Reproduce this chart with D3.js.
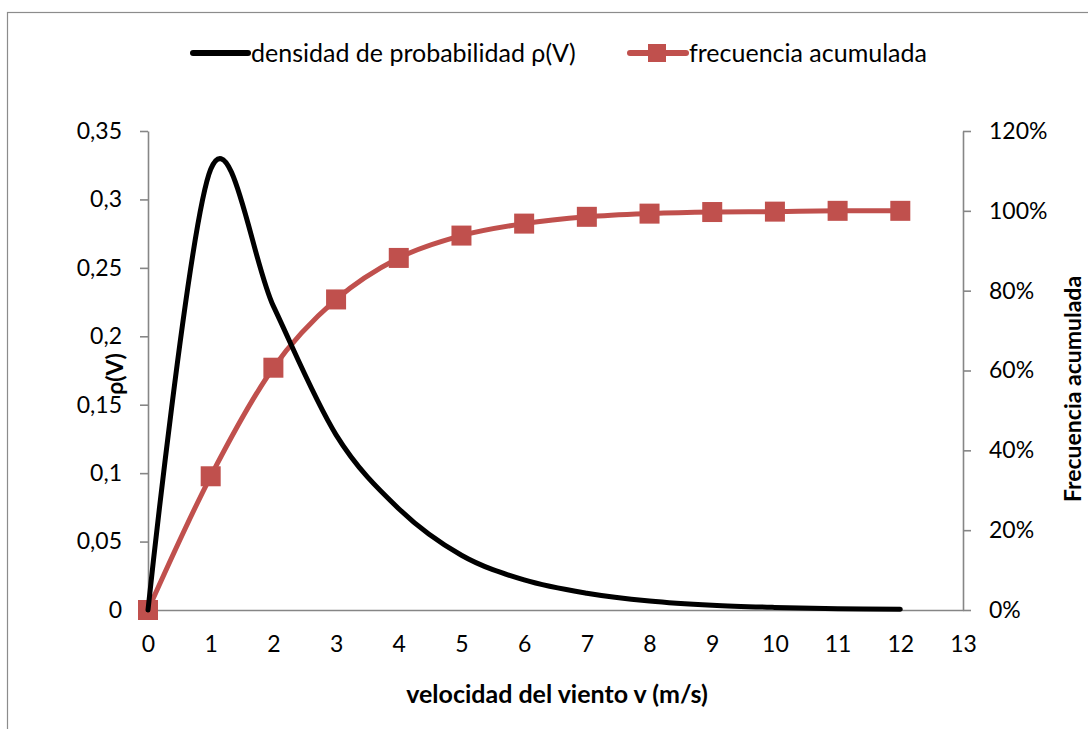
<!DOCTYPE html>
<html><head><meta charset="utf-8">
<script src="https://cdn.jsdelivr.net/npm/d3@7"></script>
<style>body{margin:0;background:#fff}svg{display:block}text{font-family:Lato,"Open Sans",sans-serif}</style>
</head><body>
<svg id="c" width="1088" height="729"></svg>
<script>
const speeds = [0,1,2,3,4,5,6,7,8,9,10,11,12];
const density = [0,0.322,0.222,0.128,0.074,0.040,0.022,0.0123,0.0066,0.0035,0.0019,0.001,0.0005];
const cumulative = [0,0.335,0.607,0.778,0.882,0.938,0.968,0.985,0.993,0.997,0.998,1.0,1.0];
const xTicks = d3.range(0,14,1);
const yLeftTicks = [0,0.05,0.1,0.15,0.2,0.25,0.3,0.35];
const yRightTicks = [0,0.2,0.4,0.6,0.8,1.0,1.2];
const legendLabels = ["densidad de probabilidad \u03c1(V)","frecuencia acumulada"];
const xTitle = "velocidad del viento v (m/s)";
const yLeftTitle = "\u03c1(V)";
const yRightTitle = "Frecuencia acumulada";

const svg = d3.select("#c");
const L=148,R=963,T=131,B=610;
const x = d3.scaleLinear().domain([0,13]).range([L,R]);
const yl = d3.scaleLinear().domain([0,0.35]).range([B,T]);
const yr = d3.scaleLinear().domain([0,1.2]).range([B,T]);
const axisCol="#868686", red="#C0504D";
const fmtL = d=> d3.format("")(d).replace(".",",");
const FONT="Lato, 'Open Sans', sans-serif";

svg.append("rect").attr("x",7.5).attr("y",12.5).attr("width",1200).attr("height",900)
  .attr("fill","none").attr("stroke","#8c8c8c").attr("stroke-width",1.2);

function styleAxis(g){
  g.select(".domain").attr("stroke",axisCol).attr("stroke-width",1.6);
  g.selectAll(".tick line").attr("stroke",axisCol).attr("stroke-width",1.6);
  g.selectAll(".tick text").attr("fill","#000").style("font-family",FONT).style("font-size","23px");
}
const gx = svg.append("g").attr("transform",`translate(0,${B})`)
  .call(d3.axisBottom(x).tickValues(xTicks).tickSize(0).tickSizeOuter(0).tickPadding(26).tickFormat(d3.format("d")));
styleAxis(gx);
const gl = svg.append("g").attr("transform",`translate(${L},0)`)
  .call(d3.axisLeft(yl).tickValues(yLeftTicks).tickSize(8).tickSizeOuter(0).tickPadding(18).tickFormat(fmtL));
styleAxis(gl);
const gr = svg.append("g").attr("transform",`translate(${R},0)`)
  .call(d3.axisRight(yr).tickValues(yRightTicks).tickSize(8).tickSizeOuter(0).tickPadding(18).tickFormat(d3.format(".0%")));
styleAxis(gr);

// titles
svg.append("text").attr("x",557).attr("y",703).attr("text-anchor","middle")
  .style("font-weight","bold").style("font-size","25px").text(xTitle);
svg.append("text").attr("transform",`translate(${123},${374}) rotate(-90)`).attr("text-anchor","middle")
  .style("font-weight","bold").style("font-size","23px").text(yLeftTitle);
svg.append("text").attr("transform",`translate(${1081},${389}) rotate(-90)`).attr("text-anchor","middle")
  .style("font-weight","bold").style("font-size","23px").text(yRightTitle);

const pts = speeds.map((s,i)=>({s,d:density[i],c:cumulative[i]}));
const lineD = d3.line().x(p=>x(p.s)).y(p=>yl(p.d)).curve(d3.curveCardinal.tension(0));
const lineC = d3.line().x(p=>x(p.s)).y(p=>yr(p.c)).curve(d3.curveCardinal.tension(0));

svg.append("path").datum(pts).attr("d",lineC).attr("fill","none").attr("stroke",red).attr("stroke-width",5).attr("stroke-linejoin","round");
const sq=20;
svg.selectAll("rect.m").data(pts).join("rect").attr("class","m")
  .attr("x",p=>x(p.s)-sq/2).attr("y",p=>yr(p.c)-sq/2).attr("width",sq).attr("height",sq).attr("fill",red);
svg.append("path").datum(pts).attr("d",lineD).attr("fill","none").attr("stroke","#000").attr("stroke-width",5).attr("stroke-linejoin","round").attr("stroke-linecap","round");

// legend
const lg = svg.append("g");
lg.append("line").attr("x1",193).attr("x2",248).attr("y1",53).attr("y2",53).attr("stroke","#000").attr("stroke-width",6).attr("stroke-linecap","round");
lg.append("text").attr("x",251).attr("y",62).style("font-size","25px").text(legendLabels[0]);
lg.append("line").attr("x1",630).attr("x2",686).attr("y1",53).attr("y2",53).attr("stroke",red).attr("stroke-width",6).attr("stroke-linecap","round");
lg.append("rect").attr("x",657-9).attr("y",53-9).attr("width",18).attr("height",18).attr("fill",red);
lg.append("text").attr("x",689).attr("y",62).style("font-size","25px").text(legendLabels[1]);
</script>
</body></html>
